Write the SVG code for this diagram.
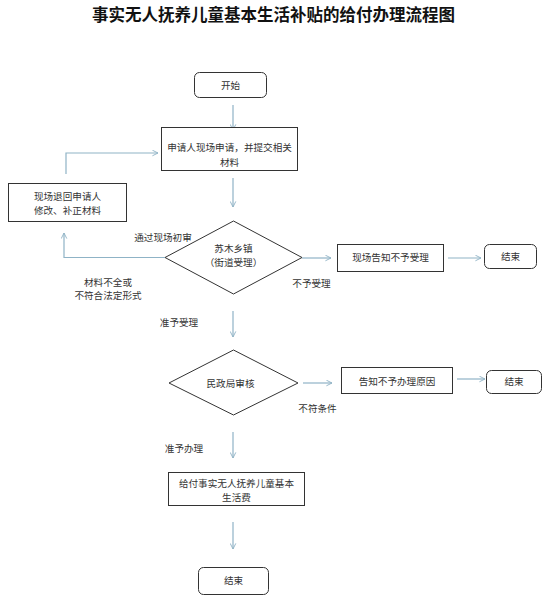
<svg xmlns="http://www.w3.org/2000/svg" width="547" height="600" viewBox="0 0 547 600">
<defs>
<marker id="arr" viewBox="0 0 10 10" refX="9" refY="5" markerWidth="7" markerHeight="7" orient="auto" markerUnits="userSpaceOnUse">
<path d="M1,1 L9,5 L1,9" fill="none" stroke="#8fb3c6" stroke-width="1.3"/>
</marker>
</defs>
<style>
text{font-family:"Noto Sans CJK SC","Noto Sans",sans-serif;font-size:9.6px;fill:#333;text-anchor:middle}
.title{font-size:16.5px;font-weight:700;fill:#111}
.box{fill:#fff;stroke:#333;stroke-width:1}
.conn{fill:none;stroke:#8fb3c6;stroke-width:1.2}
.arrow{marker-end:url(#arr)}
</style>
<rect width="547" height="600" fill="#fff"/>
<text class="title" x="273.5" y="21">事实无人抚养儿童基本生活补贴的给付办理流程图</text>

<g id="connectors">
<line class="conn arrow" x1="233" y1="105" x2="233" y2="130"/>
<line class="conn arrow" x1="233" y1="178" x2="233" y2="207"/>
<path class="conn arrow" d="M165,257.5 H64 V233"/>
<path class="conn arrow" d="M66,174 V153 H158"/>
<line class="conn arrow" x1="302" y1="258" x2="331" y2="258"/>
<line class="conn arrow" x1="448" y1="258" x2="481" y2="258"/>
<line class="conn arrow" x1="233" y1="311" x2="233" y2="337"/>
<line class="conn arrow" x1="303" y1="383" x2="332" y2="383"/>
<line class="conn arrow" x1="457" y1="379" x2="485" y2="379"/>
<line class="conn arrow" x1="233" y1="432" x2="233" y2="458"/>
<line class="conn arrow" x1="233" y1="522" x2="233" y2="549"/>
</g>

<g id="start">
<rect class="box" x="194.5" y="72.5" width="72" height="25" rx="5"/>
<text x="230.5" y="88.5">开始</text>
</g>

<g id="apply">
<rect class="box" x="161.5" y="127.5" width="136" height="43"/>
<text x="229.5" y="151">申请人现场申请，并提交相关</text>
<text x="229.5" y="166">材料</text>
</g>

<g id="returnBox">
<rect class="box" x="8.5" y="183.5" width="118" height="38"/>
<text x="67.5" y="199.5">现场退回申请人</text>
<text x="67.5" y="213.5">修改、补正材料</text>
</g>

<g id="diamond1">
<polygon class="box" points="233.5,221 302,257.5 233.5,294 165,257.5"/>
<text x="233.5" y="251.5">苏木乡镇</text>
<text x="233.5" y="266">（街道受理）</text>
</g>

<g id="reject1">
<rect class="box" x="337.5" y="244.5" width="106" height="27"/>
<text x="390.5" y="261">现场告知不予受理</text>
</g>

<g id="end1">
<rect class="box" x="484.5" y="244.5" width="52" height="24" rx="5"/>
<text x="510.5" y="260">结束</text>
</g>

<g id="diamond2">
<polygon class="box" points="233.5,350 298,383 233.5,415 169,383"/>
<text x="230.5" y="386.5">民政局审核</text>
</g>

<g id="reject2">
<rect class="box" x="341.5" y="367.5" width="111" height="26"/>
<text x="397" y="384.5">告知不予办理原因</text>
</g>

<g id="end2">
<rect class="box" x="486.5" y="370.5" width="55" height="23" rx="5"/>
<text x="514" y="385">结束</text>
</g>

<g id="pay">
<rect class="box" x="168.5" y="472.5" width="136" height="33"/>
<text x="236.5" y="486.5">给付事实无人抚养儿童基本</text>
<text x="236.5" y="500.5">生活费</text>
</g>

<g id="end3">
<rect class="box" x="198.5" y="567.5" width="70" height="27" rx="5"/>
<text x="233.5" y="583.5">结束</text>
</g>

<g id="labels">
<text x="163" y="240.5">通过现场初审</text>
<text x="108" y="285.5">材料不全或</text>
<text x="108" y="298.5">不符合法定形式</text>
<text x="311.5" y="286.5">不予受理</text>
<text x="179" y="325.5">准予受理</text>
<text x="317.5" y="411.5">不符条件</text>
<text x="184" y="451.5">准予办理</text>
</g>
</svg>
